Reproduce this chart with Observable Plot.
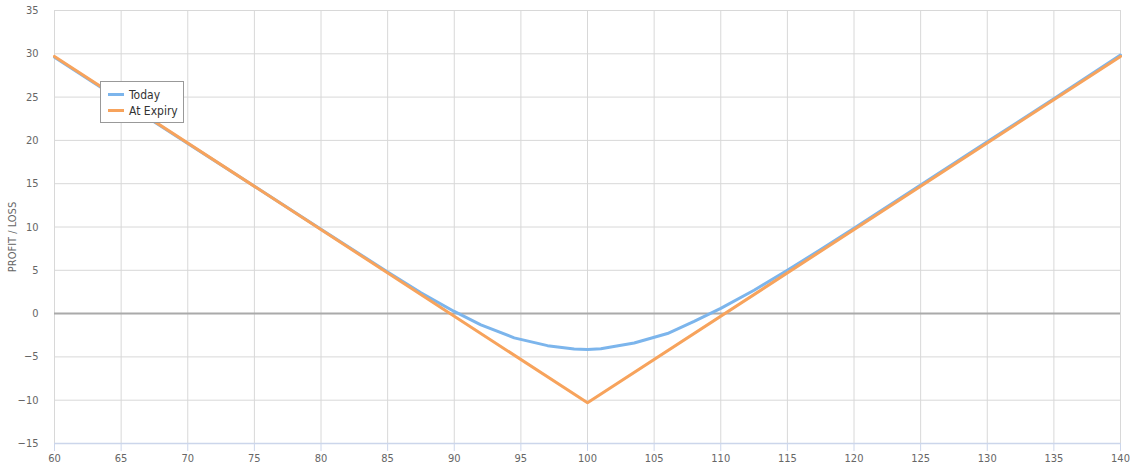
<!DOCTYPE html>
<html>
<head>
<meta charset="utf-8">
<script src="https://cdn.jsdelivr.net/npm/d3@7"></script>
<script src="https://cdn.jsdelivr.net/npm/@observablehq/plot@0.6"></script>
<style>
  html, body { margin: 0; padding: 0; background: #fff; }
  #wrap { position: relative; width: 1130px; height: 473px; font-family: "DejaVu Sans Condensed", "Liberation Sans Narrow", "Roboto", sans-serif; }
  #legend { position: absolute; left: 100px; top: 81px; width: 82px; height: 40px; border: 1px solid #999; background: #fff; box-sizing: content-box; font-size: 12px; color: #333; }
  .item { position: absolute; left: 7px; height: 16px; line-height: 16px; white-space: nowrap; }
  .item span.sw { display: inline-block; width: 16px; height: 3px; vertical-align: middle; margin-right: 5px; position: relative; top: -1px; }
</style>
</head>
<body>
<div id="wrap"></div>
<script>
const todayX = [60, 65, 70, 75, 80, 85, 87.5, 90, 92, 94.5, 97, 99, 100, 101, 103.5, 106, 108, 110, 112.5, 115, 117.5, 120, 125, 130, 135, 140];
const todayY = [29.6, 24.6, 19.65, 14.7, 9.75, 4.8, 2.4, 0.25, -1.3, -2.8, -3.7, -4.1, -4.15, -4.05, -3.4, -2.3, -0.9, 0.6, 2.7, 5.0, 7.4, 9.85, 14.85, 19.85, 24.8, 29.85];
const expiryX = [60, 100, 140];
const expiryY = [29.7, -10.3, 29.7];
const xTicks = [60, 65, 70, 75, 80, 85, 90, 95, 100, 105, 110, 115, 120, 125, 130, 135, 140];
const yTicks = [-15, -10, -5, 0, 5, 10, 15, 20, 25, 30, 35];
const seriesNames = ["Today", "At Expiry"];
const seriesColors = ["#7cb5ec", "#f7a35c"];
const yTitle = "PROFIT / LOSS";

const today = todayX.map((x, i) => ({x, y: todayY[i]}));
const expiry = expiryX.map((x, i) => ({x, y: expiryY[i]}));

const chart = Plot.plot({
  width: 1130,
  height: 473,
  marginLeft: 54,
  marginRight: 10,
  marginTop: 10,
  marginBottom: 30,
  style: { fontFamily: "'DejaVu Sans Condensed', 'Liberation Sans Narrow', Roboto, sans-serif", fontSize: "11px", background: "#fff" },
  x: { domain: [60, 140] },
  y: { domain: [-15, 35] },
  marks: [
    Plot.gridX(xTicks, { stroke: "#d8d8d8", strokeOpacity: 1 }),
    Plot.gridY(yTicks, { stroke: "#d8d8d8", strokeOpacity: 1 }),
    Plot.ruleY([0], { stroke: "#aaaaaa", strokeWidth: 2 }),
    Plot.ruleY([-15], { stroke: "#ccd6eb", strokeWidth: 1.5 }),
    Plot.axisX(xTicks, { tickSize: 8, tickPadding: 3, stroke: "#ccd6eb", fill: "#666", label: null }),
    Plot.axisY(yTicks, { tickSize: 0, tickPadding: 16, fill: "#666", label: null }),
    Plot.text([yTitle], { frameAnchor: "left", textAnchor: "middle", dx: -42, dy: 10, rotate: -90, fill: "#666", fontSize: 11, text: d => d }),
    Plot.line(today, { x: "x", y: "y", stroke: seriesColors[0], strokeWidth: 3, curve: "linear" }),
    Plot.line(expiry, { x: "x", y: "y", stroke: seriesColors[1], strokeWidth: 3 })
  ]
});

const wrap = document.getElementById("wrap");
wrap.appendChild(chart);

const legend = document.createElement("div");
legend.id = "legend";
seriesNames.forEach((name, i) => {
  const it = document.createElement("div");
  it.className = "item";
  it.style.top = (5 + i * 16) + "px";
  it.innerHTML = `<span class="sw" style="background:${seriesColors[i]}"></span>${name}`;
  legend.appendChild(it);
});
wrap.appendChild(legend);
</script>
</body>
</html>
